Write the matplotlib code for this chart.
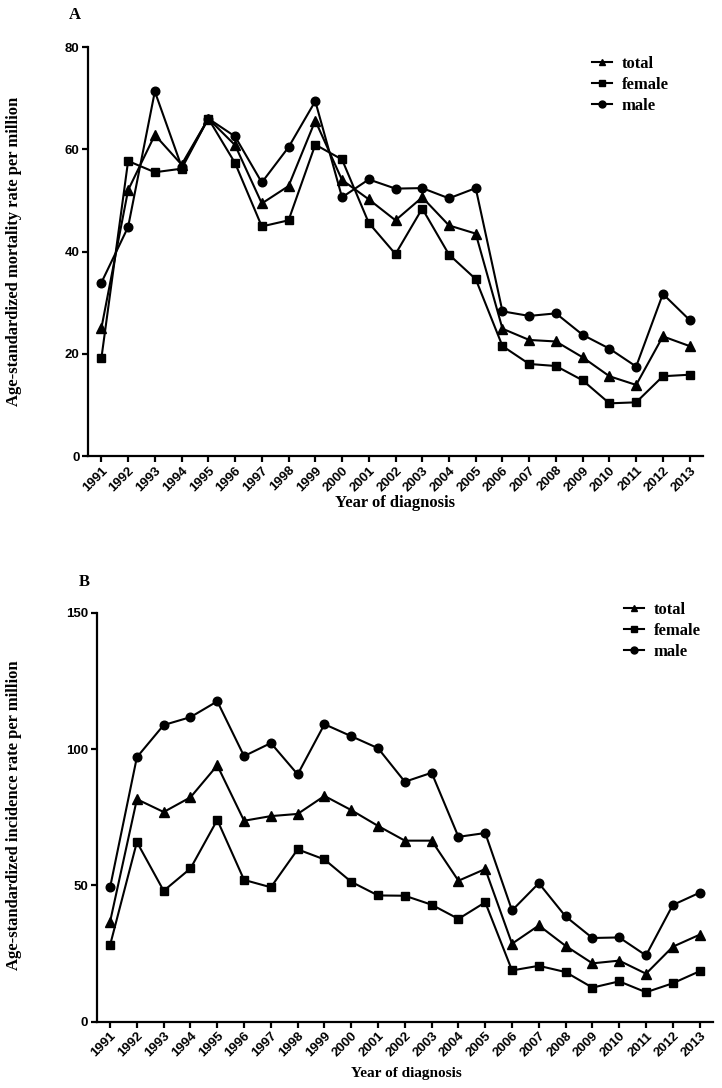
import matplotlib
matplotlib.use("Agg")
import matplotlib.pyplot as plt
from matplotlib.lines import Line2D

years = list(range(1991, 2014))

# Panel A: mortality
mort_total = [25.0, 52.0, 62.8, 57.0, 66.0, 60.8, 49.4, 52.8, 65.6, 54.0, 50.2, 46.1, 50.6,
              45.1, 43.5, 24.9, 22.7, 22.4, 19.3, 15.6, 13.9, 23.4, 21.5]
mort_female = [19.1, 57.7, 55.5, 56.2, 66.0, 57.3, 44.9, 46.1, 60.9, 58.0, 45.6, 39.5, 48.4,
               39.4, 34.6, 21.5, 18.0, 17.6, 14.8, 10.3, 10.5, 15.6, 15.9]
mort_male = [33.9, 44.8, 71.3, 56.6, 66.0, 62.5, 53.5, 60.4, 69.4, 50.6, 54.1, 52.3, 52.4,
             50.4, 52.4, 28.3, 27.4, 27.9, 23.7, 21.0, 17.5, 31.7, 26.6]

# Panel B: incidence
inc_total = [36.7, 81.6, 76.9, 82.3, 94.0, 73.7, 75.4, 76.2, 82.8, 77.6, 71.8, 66.4, 66.4,
             51.7, 56.0, 28.6, 35.3, 27.8, 21.4, 22.4, 17.6, 27.5, 31.9]
inc_female = [28.1, 65.9, 48.0, 56.2, 74.0, 52.0, 49.3, 63.2, 59.5, 51.3, 46.3, 46.2, 42.9,
              37.7, 43.8, 18.8, 20.5, 18.2, 12.5, 14.8, 10.8, 14.1, 18.5]
inc_male = [49.3, 97.0, 108.8, 111.7, 117.5, 97.4, 102.2, 90.7, 109.1, 104.7, 100.3, 88.0, 91.3,
            67.8, 69.2, 40.8, 50.8, 38.6, 30.7, 30.9, 24.3, 42.8, 47.3]

series_labels = ["total", "female", "male"]
markers = ["^", "s", "o"]

W, H = 722, 1088
fig = plt.figure(figsize=(W / 100, H / 100), dpi=100)

serif = "Liberation Serif"
sans = "Liberation Sans"


def px_box(left, top, right, bottom):
    return [left / W, 1 - bottom / H, (right - left) / W, (bottom - top) / H]


def style_axis(ax, ymax, ystep):
    for s in ["top", "right"]:
        ax.spines[s].set_visible(False)
    for s in ["left", "bottom"]:
        ax.spines[s].set_linewidth(1.6)
    ax.set_ylim(0, ymax)
    ax.set_yticks(range(0, ymax + 1, ystep))
    ax.set_xlim(1990.5, 2013.5)
    ax.set_xticks(years)
    ax.set_xticklabels([str(y) for y in years], rotation=45, ha="right", va="top",
                       rotation_mode="anchor")
    ax.tick_params(axis="both", width=1.6, length=4, direction="out", pad=2)
    for lab in ax.get_xticklabels() + ax.get_yticklabels():
        lab.set_fontfamily(sans)
        lab.set_fontweight("bold")
        lab.set_fontsize(9.5)


def plot_panel(ax, data):
    handles = []
    for vals, m, lab in zip(data, markers, series_labels):
        ms = 6.5 if m == "^" else (6 if m == "s" else 6.2)
        ax.plot(years, vals, color="black", lw=1.5, marker=m, markersize=ms,
                markerfacecolor="black", markeredgecolor="black", clip_on=False)
        handles.append(Line2D([], [], color="black", lw=1.5, marker=m, markersize=5))
    return handles


legend_kw = dict(bbox_transform=fig.transFigure, frameon=False, handlelength=1.2,
                 handletextpad=0.6, labelspacing=0.3, borderaxespad=0, borderpad=0,
                 prop={"family": serif, "weight": "bold", "size": 12})

# Panel A
axA = fig.add_axes(px_box(88, 47, 703, 456))
hA = plot_panel(axA, [mort_total, mort_female, mort_male])
style_axis(axA, 80, 20)
axA.legend(hA, series_labels, loc="upper left", bbox_to_anchor=(592 / W, 1 - 56 / H), **legend_kw)

fig.text(75 / W, 1 - 15 / H, "A", family=serif, weight="bold", fontsize=12, ha="center", va="center")
fig.text(14 / W, 1 - 251 / H, "Age-standardized mortality rate per million", family=serif,
         weight="bold", fontsize=12, rotation=90, ha="center", va="center")
fig.text(395 / W, 1 - 503 / H, "Year of diagnosis", family=serif, weight="bold", fontsize=12,
         ha="center", va="center")

# Panel B
axB = fig.add_axes(px_box(96.7, 612.7, 713, 1021.7))
hB = plot_panel(axB, [inc_total, inc_female, inc_male])
style_axis(axB, 150, 50)
axB.legend(hB, series_labels, loc="upper left", bbox_to_anchor=(624 / W, 1 - 602 / H), **legend_kw)

fig.text(84 / W, 1 - 582 / H, "B", family=serif, weight="bold", fontsize=12, ha="center", va="center")
fig.text(14 / W, 1 - 815 / H, "Age-standardized incidence rate per million", family=serif,
         weight="bold", fontsize=12, rotation=90, ha="center", va="center")
fig.text(406 / W, 1 - 1074 / H, "Year of diagnosis", family=serif, weight="bold", fontsize=11,
         ha="center", va="center")

fig.savefig("out.png", dpi=100, facecolor="white")
